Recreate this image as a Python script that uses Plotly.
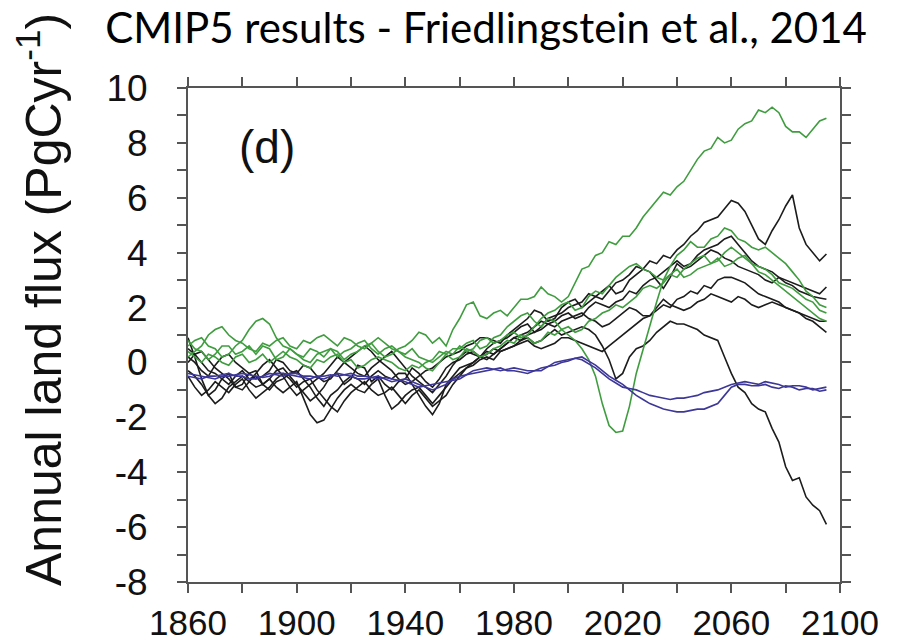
import plotly.graph_objects as go

# annual-ish samples every 2.5 years, 1860 .. 2095
green_high = [0.8,0.5, 0.4,0.1, 0.3,0.6, 0.6,0.3, 0.4,0.6, 0.3,0.6, 0.5,0.1, 0.2,0.5, 0.3,0.2, 0.5,0.4,
              0.2,0.5, 0.4,0.1, 0.3,0.4, 0.6,0.7, 0.4,0.2, 0.3,0.5, 0.6,0.8, 1.1,1.0, 0.7,0.9, 0.6,1.2,
              1.6,2.1, 2.2,1.7, 1.6,1.8, 1.9,1.7, 2.0,2.3, 2.3,2.4, 2.75,2.5, 2.4,2.2, 2.4,2.9, 3.4,3.5,
              3.9,4.0, 4.4,4.3, 4.6,4.6, 4.9,5.3, 5.6,5.9, 6.2,6.1, 6.4,6.6, 7.0,7.4, 7.7,7.8, 8.2,8.0,
              8.1,8.5, 8.7,8.8, 9.2,9.1, 9.3,9.1, 8.6,8.4, 8.4,8.2, 8.5,8.8, 8.9]
green_dip = [0.6,0.8, 0.9,0.6, 0.5,0.2, 0.3,0.6, 0.8,1.2, 1.5,1.6, 1.4,0.9, 0.6,0.5, 0.3,0.1, 0.0,0.3,
             0.4,0.5, 0.2,0.4, 0.5,0.7, 0.8,0.5, 0.3,0.5, 0.6,0.4, 0.2,0.1, 0.0,-0.2, -0.3,0.0, 0.3,0.5,
             0.5,0.7, 0.8,0.5, 0.6,0.9, 1.0,1.3, 1.5,1.7, 1.8,1.5, 1.3,1.6, 1.5,1.2, 1.0,0.8, 0.5,0.1,
             -0.5,-1.5, -2.3,-2.55, -2.5,-1.6, -0.4,0.5, 1.3,2.2, 3.0,3.5, 3.9,4.1, 4.4,4.2, 4.2,4.5,
             4.6,4.9, 4.8,4.5, 4.4,4.2, 4.1,4.2, 4.0,3.8, 3.6,3.3, 3.0,2.6, 2.4,2.1, 2.0]
green_c = [0.2,0.4, 0.6,1.0, 1.2,1.3, 1.0,0.8, 0.7,0.5, 0.4,0.7, 0.6,0.8, 0.9,0.6, 0.5,0.8, 0.7,0.9,
           1.0,0.8, 0.6,0.9, 0.8,0.6, 0.5,0.7, 0.9,0.7, 0.5,0.4, 0.3,0.5, 0.2,0.1, 0.0,0.2, 0.4,0.3,
           0.6,0.4, 0.5,0.8, 0.9,0.7, 0.8,1.0, 1.1,0.9, 1.0,1.3, 1.6,1.8, 1.9,2.1, 2.2,1.9, 2.0,2.4,
           2.6,2.5, 2.8,3.1, 3.3,3.5, 3.6,3.4, 3.3,3.1, 3.0,3.2, 3.4,3.1, 3.2,3.4, 3.5,3.6, 3.8,3.5,
           3.6,3.8, 3.9,3.6, 3.3,3.2, 3.0,2.8, 2.6,2.4, 2.2,2.0, 1.8,1.6, 1.5]
green_d = [0.4,0.2, 0.0,0.3, 0.2,0.0, -0.1,0.2, 0.3,0.0, 0.1,0.3, 0.0,0.2, 0.4,0.2, 0.1,-0.1, -0.2,0.1,
           0.0,0.2, 0.3,0.0, 0.1,-0.2, -0.1,0.1, 0.2,0.1, 0.0,-0.2, -0.3,-0.1, -0.2,0.0, 0.1,0.4, 0.3,0.1,
           0.2,0.5, 0.4,0.2, 0.3,0.5, 0.6,0.8, 0.7,1.0, 0.9,0.7, 0.8,1.1, 1.0,1.2, 1.3,1.1, 1.2,1.5,
           1.6,1.8, 1.9,2.1, 2.0,2.2, 2.4,2.7, 2.8,2.7, 2.9,3.2, 3.1,3.4, 3.6,3.8, 3.9,3.6, 3.7,4.0,
           4.2,4.0, 3.8,3.6, 3.5,3.4, 3.2,2.9, 2.8,2.7, 2.5,2.3, 2.2,1.9, 1.8]

black_a = [0.9,0.2, -0.6,-1.2, -1.0,-0.6, -0.4,-0.9, -0.8,-0.4, -0.3,-0.8, -0.6,-0.3, -0.2,-0.5, -0.8,-1.1, -1.4,-1.2,
           -0.9,-0.5, -0.4,-0.8, -0.6,-0.1, -0.2,-0.7, -0.5,-0.8, -1.0,-0.7, -0.6,-0.2, -0.4,-0.7, -0.9,-0.6, -0.2,0.0,
           0.1,0.3, 0.4,0.2, 0.5,0.7, 0.8,0.9, 1.1,1.3, 1.4,1.1, 1.3,1.6, 1.7,1.8, 2.0,2.1, 2.2,2.5,
           2.4,2.3, 2.6,2.9, 3.0,3.2, 3.5,3.4, 3.7,3.6, 3.9,3.8, 4.1,4.3, 4.6,4.8, 5.1,5.2, 5.3,5.6,
           5.9,5.8, 5.5,5.0, 4.5,4.3, 4.8,5.2, 5.7,6.1, 4.9,4.3, 4.0,3.7, 3.95]
black_b = [0.5,0.3, 0.0,-0.3, -0.4,-0.6, -0.8,-0.5, -0.3,-0.6, -0.5,-0.8, -1.0,-0.7, -0.6,-0.4, -0.3,-0.6, -0.9,-1.3,
           -1.6,-1.2, -1.0,-0.7, -0.5,-0.6, -0.8,-0.5, -0.3,-0.5, -0.6,-0.4, -0.4,-0.8, -1.2,-1.6, -1.9,-1.5, -0.8,-0.5,
           -0.2,-0.1, 0.0,0.2, 0.3,0.5, 0.4,0.5, 0.6,0.8, 0.9,0.7, 0.8,1.0, 1.2,1.0, 1.1,1.2, 1.3,1.2,
           1.0,0.6, 0.1,-0.6, -0.4,0.2, 0.5,0.6, 0.8,1.1, 1.3,1.5, 1.4,1.4, 1.3,1.2, 1.0,0.9, 0.8,0.2,
           -0.4,-0.9, -1.1,-1.5, -1.7,-1.8, -2.4,-2.9, -3.8,-4.3, -4.2,-4.9, -5.2,-5.4, -5.9]
black_c = [0.2,0.0, -0.3,-0.5, -0.1,0.2, 0.3,0.0, -0.2,-0.4, -0.6,-0.5, -0.3,0.1, 0.0,-0.3, -0.4,-0.1, -0.2,-0.5,
           -0.7,-0.6, -0.3,0.0, 0.2,0.4, 0.6,0.4, 0.1,-0.1, -0.3,-0.6, -0.8,-0.7, -0.5,-0.3, -0.2,0.0, 0.2,0.3,
           0.4,0.6, 0.7,0.9, 0.9,0.8, 0.7,1.0, 1.2,1.4, 1.6,1.9, 1.8,1.5, 1.6,2.0, 2.2,2.3, 2.0,2.2,
           2.4,2.6, 2.8,2.5, 2.6,3.0, 3.2,3.4, 3.3,3.0, 2.7,3.1, 3.6,3.4, 3.5,3.7, 3.9,4.1, 4.0,3.8,
           3.7,3.5, 3.4,3.3, 3.2,3.0, 2.9,3.1, 3.0,2.9, 2.8,2.7, 2.6,2.5, 2.75]
black_d = [-0.3,-0.5, -0.8,-1.2, -1.5,-1.3, -0.9,-0.7, -0.5,-0.7, -0.9,-0.8, -0.6,-0.9, -1.1,-0.9, -0.7,-1.3, -1.9,-2.2,
           -2.1,-1.7, -1.3,-1.0, -0.8,-1.0, -1.1,-0.8, -0.6,-1.2, -1.7,-1.5, -1.2,-1.0, -0.9,-1.2, -1.5,-1.2, -0.9,-0.6,
           -0.4,-0.2, -0.1,0.1, 0.2,0.1, 0.4,0.5, 0.6,0.7, 0.8,0.6, 0.5,0.6, 0.7,0.9, 0.9,0.8, 0.7,0.6,
           0.5,0.4, 0.6,0.8, 1.0,1.2, 1.4,1.6, 1.7,1.9, 2.1,2.0, 2.3,2.4, 2.6,2.5, 2.8,2.7, 3.0,3.1,
           3.1,3.0, 2.9,2.7, 2.5,2.4, 2.3,2.2, 2.0,1.9, 1.8,1.6, 1.5,1.3, 1.1]
black_e = [0.0,0.3, 0.4,0.1, -0.2,-0.4, -0.6,-0.9, -1.0,-0.7, -0.4,-0.1, 0.1,-0.2, -0.5,-0.9, -1.2,-1.0, -0.8,-0.6,
           -0.4,-0.1, 0.2,0.0, -0.2,-0.4, -0.5,-0.2, 0.0,0.2, 0.4,0.1, -0.2,-0.5, -0.7,-0.9, -1.1,-0.8, -0.5,-0.1,
           0.2,0.4, 0.3,0.2, 0.1,0.3, 0.5,0.7, 0.9,1.0, 1.1,1.3, 1.5,1.4, 1.3,1.5, 1.6,1.7, 1.8,1.6,
           1.5,1.3, 1.4,1.6, 1.8,2.0, 1.9,1.7, 1.7,2.0, 2.3,2.1, 2.0,1.9, 2.0,2.2, 2.3,2.5, 2.4,2.3,
           2.2,2.4, 2.3,2.1, 2.0,2.1, 2.2,2.1, 2.0,1.9, 1.8,1.7, 1.6,1.5, 1.5]
black_f = [-0.5,-0.9, -1.2,-1.0, -0.7,-0.9, -1.1,-0.8, -0.6,-1.0, -1.3,-1.1, -0.9,-0.6, -0.4,-0.6, -0.9,-0.7, -0.6,-1.0,
           -1.3,-1.6, -1.8,-1.4, -1.1,-0.9, -0.7,-1.0, -1.2,-1.1, -0.9,-1.2, -1.5,-1.2, -1.0,-1.3, -1.6,-1.4, -1.2,-0.8,
           -0.5,-0.2, 0.0,0.2, 0.4,0.3, 0.5,0.7, 0.9,0.8, 1.0,1.1, 1.2,1.4, 1.5,1.7, 1.8,1.6, 1.7,2.0,
           2.2,2.1, 2.0,2.2, 2.3,2.6, 2.5,2.8, 3.0,3.1, 3.3,3.5, 3.7,3.5, 3.6,3.9, 4.1,4.2, 4.3,4.5,
           4.6,4.3, 4.0,3.7, 3.5,3.4, 3.3,3.1, 2.9,2.8, 2.6,2.5, 2.4,2.35, 2.3]

blue_a = [-0.5,-0.55, -0.6,-0.5, -0.5,-0.45, -0.4,-0.5, -0.5,-0.6, -0.6,-0.5, -0.4,-0.45, -0.5,-0.4, -0.4,-0.5, -0.5,-0.55,
          -0.6,-0.5, -0.4,-0.45, -0.5,-0.6, -0.6,-0.55, -0.5,-0.6, -0.7,-0.65, -0.6,-0.7, -0.8,-0.9, -1.0,-0.9, -0.8,-0.6,
          -0.5,-0.45, -0.4,-0.35, -0.3,-0.25, -0.2,-0.3, -0.3,-0.35, -0.4,-0.3, -0.2,-0.15, -0.1,0.0, 0.05,0.15, 0.2,0.05,
          -0.1,-0.3, -0.5,-0.65, -0.8,-1.0, -1.2,-1.35, -1.5,-1.6, -1.7,-1.75, -1.8,-1.8, -1.75,-1.7, -1.7,-1.6, -1.5,-1.2,
          -0.9,-0.8, -0.8,-0.85, -0.85,-0.8, -0.9,-0.95, -0.85,-0.9, -1.0,-0.95, -0.95,-1.05, -1.0]
blue_b = [-0.4,-0.45, -0.5,-0.55, -0.6,-0.5, -0.5,-0.45, -0.4,-0.45, -0.5,-0.55, -0.5,-0.4, -0.4,-0.45, -0.5,-0.55, -0.6,-0.5,
          -0.5,-0.45, -0.5,-0.45, -0.4,-0.5, -0.5,-0.55, -0.6,-0.55, -0.6,-0.65, -0.7,-0.8, -0.9,-0.85, -0.8,-0.75, -0.7,-0.65,
          -0.6,-0.45, -0.3,-0.25, -0.2,-0.25, -0.3,-0.25, -0.2,-0.25, -0.3,-0.3, -0.3,-0.15, 0.0,0.05, 0.1,0.15, 0.1,-0.05,
          -0.2,-0.4, -0.6,-0.75, -0.9,-0.95, -1.0,-1.1, -1.2,-1.25, -1.3,-1.35, -1.3,-1.3, -1.25,-1.2, -1.1,-1.05, -1.0,-0.9,
          -0.8,-0.75, -0.7,-0.75, -0.8,-0.7, -0.75,-0.8, -0.9,-0.85, -0.85,-0.9, -1.0,-0.95, -0.9]

years = [1860 + 2.5 * i for i in range(len(green_high))]

x_tickvals = [1860, 1880, 1900, 1920, 1940, 1960, 1980, 2000, 2020, 2040, 2060, 2080, 2100]
x_ticktext = ["1860", "", "1900", "", "1940", "", "1980", "", "2020", "", "2060", "", "2100"]
y_tickvals = [-8, -7, -6, -5, -4, -3, -2, -1, 0, 1, 2, 3, 4, 5, 6, 7, 8, 9, 10]
y_ticktext = ["-8", "", "-6", "", "-4", "", "-2", "", "0", "", "2", "", "4", "", "6", "", "8", "", "10"]

BLACK = "#1c1c1c"
GREEN = "#3f9d3f"
BLUE = "#3d3798"

series = [
    (black_a, BLACK), (black_b, BLACK), (black_c, BLACK), (black_d, BLACK),
    (black_e, BLACK), (black_f, BLACK),
    (green_c, GREEN), (green_d, GREEN), (green_dip, GREEN), (green_high, GREEN),
    (blue_a, BLUE), (blue_b, BLUE),
]

fig = go.Figure()
for vals, col in series:
    fig.add_trace(go.Scatter(x=years[:len(vals)], y=vals, mode="lines",
                             line=dict(color=col, width=1.6), showlegend=False,
                             hoverinfo="skip"))

axis_common = dict(showline=True, linecolor="#555555", linewidth=2, mirror="ticks",
                   ticks="outside", ticklen=9, tickwidth=1.5, tickcolor="#555555",
                   showgrid=False, zeroline=False, automargin=False)

fig.update_layout(
    width=904, height=644,
    margin=dict(l=188, r=64, t=88, b=62, autoexpand=False),
    plot_bgcolor="white", paper_bgcolor="white",
    xaxis=dict(range=[1860, 2100], tickmode="array", tickvals=x_tickvals,
               ticktext=x_ticktext, ticklabelstandoff=0,
               tickfont=dict(family="Arial, Liberation Sans, sans-serif", size=35, color="#111111"),
               **axis_common),
    yaxis=dict(range=[-8, 10], tickmode="array", tickvals=y_tickvals,
               ticktext=y_ticktext, ticklabelstandoff=22,
               tickfont=dict(family="Arial, Liberation Sans, sans-serif", size=37, color="#111111"),
               **axis_common),
    title=dict(text="CMIP5 results - Friedlingstein et al., 2014",
               x=486 / 904, y=1 - 28 / 644, xanchor="center", yanchor="middle",
               font=dict(family="Lato, Open Sans, sans-serif", size=42, color="#000000")),
    annotations=[
        dict(text="Annual land flux (PgCyr<sup>-1</sup>)", textangle=-90,
             xref="paper", yref="paper", x=(40 - 188) / 652, y=(582 - 300) / 494,
             xanchor="center", yanchor="middle", showarrow=False,
             font=dict(family="Arial, Liberation Sans, sans-serif", size=50, color="#111111")),
        dict(text="(d)", xref="x", yref="y", x=1889, y=7.85,
             xanchor="center", yanchor="middle", showarrow=False,
             font=dict(family="Arial, Liberation Sans, sans-serif", size=46, color="#111111")),
    ],
)

fig.write_html("out.html")
